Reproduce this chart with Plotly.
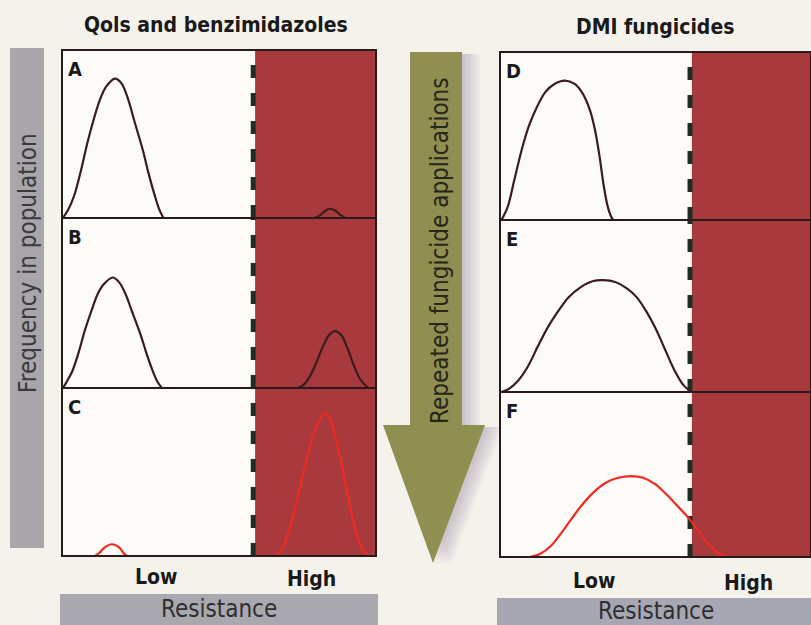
import plotly.graph_objects as go

W, H = 811, 625

# ---------------- data (resistance 0-100 across panel, frequency 0-1) ----------------
a_x = [0.3, 2, 4, 6, 8, 10, 12, 14, 16.9, 19, 21, 23, 25.8, 27.5, 29.6, 31, 32.3]
a_y = [0, 0.05, 0.14, 0.28, 0.44, 0.58, 0.70, 0.78, 0.83, 0.80, 0.71, 0.58, 0.40, 0.27, 0.13, 0.05, 0]
a2_x = [80.5, 82.5, 84, 85.4, 87, 88.5, 90.2]
a2_y = [0, 0.02, 0.045, 0.055, 0.045, 0.02, 0]

b_x = [0.3, 1.3, 3.3, 5.3, 7.3, 9.3, 11.3, 13.3, 16.2, 18.3, 20.3, 22.3, 25.1, 26.8, 28.9, 30.3, 31.8]
b_y = [0, 0.03, 0.10, 0.21, 0.34, 0.45, 0.55, 0.61, 0.65, 0.62, 0.55, 0.45, 0.31, 0.21, 0.10, 0.04, 0]
b2_x = [75.2, 77, 79, 81, 83, 85, 86.9, 89, 91, 93, 95, 97.5]
b2_y = [0, 0.02, 0.07, 0.15, 0.24, 0.31, 0.335, 0.31, 0.23, 0.13, 0.05, 0]

c_x = [10.5, 12, 13.5, 15.9, 18.3, 19.5, 20.7]
c_y = [0, 0.02, 0.05, 0.07, 0.05, 0.02, 0]
c2_x = [67.8, 70, 72, 74, 76.3, 78, 80, 82, 83.8, 85.5, 87, 88.5, 90.1, 92, 94, 96, 97.5]
c2_y = [0, 0.04, 0.13, 0.27, 0.45, 0.58, 0.72, 0.81, 0.85, 0.81, 0.71, 0.59, 0.45, 0.27, 0.12, 0.03, 0]

d_x = [0.5, 2.5, 4.5, 7.0, 9.5, 11.8, 14.5, 17.5, 20.9, 24, 26, 27.5, 29, 30.5, 32, 33.3, 34.5, 35.5, 36.4]
d_y = [0, 0.08, 0.23, 0.42, 0.57, 0.67, 0.76, 0.81, 0.83, 0.81, 0.77, 0.72, 0.65, 0.54, 0.38, 0.21, 0.09, 0.03, 0]

e_x = [0.5, 3, 6, 9, 12.3, 15.5, 18.7, 22, 26, 30, 33.2, 37, 41, 44, 47, 50, 53, 56, 59, 61.6]
e_y = [0, 0.02, 0.07, 0.15, 0.27, 0.38, 0.47, 0.55, 0.61, 0.645, 0.65, 0.64, 0.60, 0.55, 0.47, 0.37, 0.25, 0.13, 0.04, 0]

f_x = [9.6, 13, 16.5, 20.3, 25.7, 30, 34, 38, 42.3, 46, 50, 53.5, 57, 60, 63, 66, 69, 71.5, 73.4]
f_y = [0, 0.02, 0.07, 0.16, 0.30, 0.39, 0.45, 0.48, 0.49, 0.48, 0.44, 0.38, 0.31, 0.25, 0.18, 0.10, 0.04, 0.01, 0]

thresholds = [61.5, 61.5, 61.5, 61.7, 61.7, 61.7]
letters = ["A", "B", "C", "D", "E", "F"]
titles = ["Qols and benzimidazoles", "DMI fungicides"]
res_labels = ["Low", "High"]
axis_label_x = "Resistance"
axis_label_y = "Frequency in population"
arrow_label = "Repeated fungicide applications"

DARK = "#3a1c1e"
RED_LINE = "#ee2a22"
RED_FILL = "#a83a3e"
DASH = "#1d2e22"
GRAY = "#a9a8ae"
OLIVE = "#8e8f50"
FONT = "Liberation Sans Narrow, DejaVu Sans Condensed, Arial Narrow, sans-serif"

def px(x):
    return x / W

def py(y):
    return 1 - y / H

# panel pixel boxes (left, top, right, bottom)
boxes = [
    (62, 50, 376, 218), (62, 218, 376, 388), (62, 388, 376, 556),
    (500, 52, 811, 220), (500, 220, 811, 392), (500, 392, 811, 557),
]

series = [
    (1, a_x, a_y, DARK), (1, a2_x, a2_y, DARK),
    (2, b_x, b_y, DARK), (2, b2_x, b2_y, DARK),
    (3, c_x, c_y, RED_LINE), (3, c2_x, c2_y, RED_LINE),
    (4, d_x, d_y, DARK), (5, e_x, e_y, DARK), (6, f_x, f_y, RED_LINE),
]

fig = go.Figure()
for idx, xs, ys, col in series:
    s = "" if idx == 1 else str(idx)
    fig.add_trace(go.Scatter(
        x=xs, y=ys, mode="lines", line=dict(color=col, width=2.2, shape="spline", smoothing=0.9),
        xaxis="x" + s, yaxis="y" + s, hoverinfo="skip", showlegend=False,
    ))

layout = dict(
    width=W, height=H, margin=dict(l=0, r=0, t=0, b=0),
    paper_bgcolor="#f5f2ec", plot_bgcolor="#fcfbf8", showlegend=False,
)
shapes = []
annotations = []

# left vertical gray bar and bottom gray bars
shapes.append(dict(type="rect", xref="paper", yref="paper", x0=px(10), x1=px(44), y0=py(548), y1=py(48),
                   fillcolor="#a8a6ab", line=dict(width=0), layer="below"))
shapes.append(dict(type="rect", xref="paper", yref="paper", x0=px(60), x1=px(378), y0=py(625), y1=py(594),
                   fillcolor=GRAY, line=dict(width=0), layer="below"))
shapes.append(dict(type="rect", xref="paper", yref="paper", x0=px(497), x1=px(811), y0=py(625), y1=py(598),
                   fillcolor="#a7a7b3", line=dict(width=0), layer="below"))

for i, (l, t, r, b) in enumerate(boxes):
    n = i + 1
    s = "" if n == 1 else str(n)
    layout["xaxis" + s] = dict(domain=[px(l), px(r)], range=[0, 100], visible=False,
                               anchor="y" + s, fixedrange=True)
    layout["yaxis" + s] = dict(domain=[py(b), py(t)], range=[0, 1.0], visible=False,
                               anchor="x" + s, fixedrange=True)
    thr = thresholds[i]
    shapes.append(dict(type="rect", xref="x" + s, yref="y" + s + " domain", x0=thr, x1=100, y0=0, y1=1,
                       fillcolor=RED_FILL, line=dict(width=0), layer="below"))
    shapes.append(dict(type="line", xref="x" + s, yref="y" + s + " domain", x0=thr - 0.6, x1=thr - 0.6,
                       y0=0, y1=1, line=dict(color=DASH, width=5, dash="13px,15px"), layer="below"))
    shapes.append(dict(type="rect", xref="x" + s + " domain", yref="y" + s + " domain", x0=0, x1=1, y0=0, y1=1,
                       line=dict(color="#2a1a1c", width=2), fillcolor="rgba(0,0,0,0)", layer="above"))
    annotations.append(dict(text=letters[i], xref="paper", yref="paper", x=px(l + 4), y=py(t + 5),
                            xanchor="left", yanchor="top", showarrow=False,
                            font=dict(family=FONT, size=20, color="#1a1a1a", weight="bold")))

# arrow with soft shadow
def arrow_path(dx, dy):
    pts = [(410, 52), (462, 52), (462, 425), (485, 425), (433, 563), (383, 425), (410, 425)]
    return "M " + " L ".join(f"{px(x + dx):.5f},{py(y + dy):.5f}" for x, y in pts) + " Z"

for dx in [18, 15, 12, 9, 6, 3]:
    shapes.append(dict(type="path", xref="paper", yref="paper", path=arrow_path(dx, 2),
                       fillcolor="rgba(120,110,135,0.06)", line=dict(width=0), layer="below"))
shapes.append(dict(type="path", xref="paper", yref="paper", path=arrow_path(0, 0),
                   fillcolor=OLIVE, line=dict(width=0), layer="above"))

# titles
annotations.append(dict(text=titles[0], xref="paper", yref="paper", x=px(216), y=py(25), showarrow=False,
                        xanchor="center", yanchor="middle",
                        font=dict(family=FONT, size=21, color="#1a1a1a", weight="bold")))
annotations.append(dict(text=titles[1], xref="paper", yref="paper", x=px(655), y=py(27), showarrow=False,
                        xanchor="center", yanchor="middle",
                        font=dict(family=FONT, size=21, color="#1a1a1a", weight="bold")))

# Low / High
for (xl, xh, yy) in [(156, 311, 577), (594, 748, 581)]:
    annotations.append(dict(text=res_labels[0], xref="paper", yref="paper", x=px(xl), y=py(yy), showarrow=False,
                            xanchor="center", yanchor="middle",
                            font=dict(family=FONT, size=21, color="#1a1a1a", weight="bold")))
    annotations.append(dict(text=res_labels[1], xref="paper", yref="paper", x=px(xh), y=py(yy + 2), showarrow=False,
                            xanchor="center", yanchor="middle",
                            font=dict(family=FONT, size=21, color="#1a1a1a", weight="bold")))

# Resistance labels
for (xc, yc) in [(219, 609), (656, 611)]:
    annotations.append(dict(text=axis_label_x, xref="paper", yref="paper", x=px(xc), y=py(yc), showarrow=False,
                            xanchor="center", yanchor="middle",
                            font=dict(family=FONT, size=24, color="#2e2e30")))

# vertical label
annotations.append(dict(text=axis_label_y, xref="paper", yref="paper", x=px(28), y=py(263), showarrow=False,
                        xanchor="center", yanchor="middle", textangle=-90,
                        font=dict(family=FONT, size=24, color="#3a3a3c")))

# arrow label
annotations.append(dict(text=arrow_label, xref="paper", yref="paper", x=px(440), y=py(251), showarrow=False,
                        xanchor="center", yanchor="middle", textangle=-90,
                        font=dict(family=FONT, size=24, color="#26261a")))

layout["shapes"] = shapes
layout["annotations"] = annotations
fig.update_layout(**layout)
fig.write_html("out.html", config={"displayModeBar": False},
               post_script="document.body.style.margin='0';document.body.style.padding='0';")
